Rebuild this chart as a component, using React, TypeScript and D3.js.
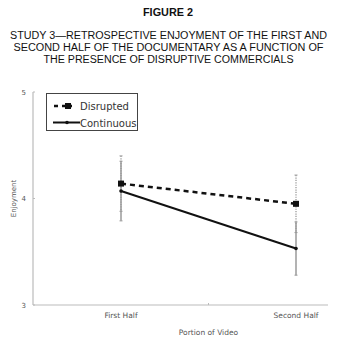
import React from "react";
import * as d3 from "d3";

const categories = ["First Half", "Second Half"];
const disrupted = [4.14, 3.95];
const disruptedErr = [0.26, 0.27];
const continuous = [4.07, 3.53];
const continuousErr = [0.28, 0.25];
const yTicks = [3, 4, 5];
const titleLines = [
  "STUDY 3—RETROSPECTIVE ENJOYMENT OF THE FIRST AND",
  "SECOND HALF OF THE DOCUMENTARY AS A FUNCTION OF",
  "THE PRESENCE OF DISRUPTIVE COMMERCIALS",
];
const titleWidths = [317, 310, 250];

const W = 341;
const H = 344;

export default function App() {
  const axisLeft = 33;
  const axisRight = 328;
  const y = d3.scaleLinear().domain([3, 5]).range([305, 92]);
  const x = d3.scalePoint<string>().domain(categories).range([121, 296]);
  const midX = ((x(categories[0]) as number) + (x(categories[1]) as number)) / 2;
  const line = d3
    .line<number>()
    .x((_, i) => x(categories[i]) as number)
    .y((d) => y(d));
  const font = "'Liberation Sans', Arial, sans-serif";
  const gFont = "'DejaVu Sans', sans-serif";
  const errColor = "#9a9a9a";
  return (
    <svg
      width={W}
      height={H}
      style={{ position: "absolute", left: 0, top: 0, background: "#fff" }}
    >
      <text x={168} y={16} textAnchor="middle" fontFamily={font} fontWeight="bold" fontSize={10.5} fill="#111"
        textLength={50} lengthAdjust="spacingAndGlyphs">
        FIGURE 2
      </text>
      {titleLines.map((t, i) => (
        <text key={i} x={168.5} y={39 + i * 12} textAnchor="middle" fontFamily={font} fontSize={10} fill="#111"
          textLength={titleWidths[i]} lengthAdjust="spacingAndGlyphs">
          {t}
        </text>
      ))}
      {/* axes */}
      <line x1={axisLeft} x2={axisLeft} y1={y(5)} y2={y(3)} stroke="#bbb" strokeWidth={1.2} />
      <line x1={axisLeft} x2={axisRight} y1={y(3)} y2={y(3)} stroke="#bbb" strokeWidth={1.2} />
      <line x1={midX} x2={midX} y1={y(3)} y2={y(3) - 2} stroke="#bbb" strokeWidth={1} />
      {yTicks.map((t) => (
        <g key={t}>
          <line x1={axisLeft} x2={axisLeft + 2} y1={y(t)} y2={y(t)} stroke="#bbb" strokeWidth={1} />
          <text x={26} y={y(t) + 2.5} textAnchor="end" fontFamily={gFont} fontSize={7} fill="#555">
            {t}
          </text>
        </g>
      ))}
      <text
        transform={`translate(16,${y(4)}) rotate(-90)`}
        textAnchor="middle"
        fontFamily={gFont}
        fontSize={7}
        fill="#555"
      >
        Enjoyment
      </text>
      {categories.map((c) => (
        <text key={c} x={x(c)} y={318} textAnchor="middle" fontFamily={gFont} fontSize={7.5} fill="#555">
          {c}
        </text>
      ))}
      <text x={midX} y={335} textAnchor="middle" fontFamily={gFont} fontSize={7.5} fill="#555">
        Portion of Video
      </text>
      {/* error bars disrupted (dotted) */}
      {categories.map((c, i) => (
        <g key={"de" + c}>
          <line
            x1={x(c)}
            x2={x(c)}
            y1={y(disrupted[i] + disruptedErr[i])}
            y2={y(disrupted[i] - disruptedErr[i])}
            stroke={errColor}
            strokeWidth={1.3}
            strokeDasharray="1.2,1.2"
          />
          {[1, -1].map((s) => (
            <line
              key={s}
              x1={(x(c) as number) - 1.5}
              x2={(x(c) as number) + 1.5}
              y1={y(disrupted[i] + s * disruptedErr[i])}
              y2={y(disrupted[i] + s * disruptedErr[i])}
              stroke={errColor}
              strokeWidth={1}
            />
          ))}
        </g>
      ))}
      {/* error bars continuous (solid) */}
      {categories.map((c, i) => (
        <g key={"ce" + c}>
          <line
            x1={x(c)}
            x2={x(c)}
            y1={y(continuous[i] + continuousErr[i])}
            y2={y(continuous[i] - continuousErr[i])}
            stroke={errColor}
            strokeWidth={1.5}
          />
          {[1, -1].map((s) => (
            <line
              key={s}
              x1={(x(c) as number) - 1.5}
              x2={(x(c) as number) + 1.5}
              y1={y(continuous[i] + s * continuousErr[i])}
              y2={y(continuous[i] + s * continuousErr[i])}
              stroke={errColor}
              strokeWidth={1}
            />
          ))}
        </g>
      ))}
      {/* lines */}
      <path d={line(disrupted) as string} fill="none" stroke="#111" strokeWidth={2.5} strokeDasharray="5,4" />
      <path d={line(continuous) as string} fill="none" stroke="#111" strokeWidth={2} />
      {disrupted.map((v, i) => (
        <rect
          key={"dm" + i}
          x={(x(categories[i]) as number) - 3}
          y={y(v) - 3}
          width={6}
          height={6}
          fill="#111"
        />
      ))}
      {continuous.map((v, i) => (
        <circle key={"cm" + i} cx={x(categories[i])} cy={y(v)} r={1.8} fill="#111" />
      ))}
      {/* legend */}
      <rect x={46.5} y={93.5} width={91} height={37} fill="#fff" stroke="#444" strokeWidth={1} />
      <line x1={54} x2={72} y1={106} y2={106} stroke="#111" strokeWidth={2.5} strokeDasharray="4,4" />
      <rect x={65} y={103} width={6} height={6} fill="#111" />
      <text x={80} y={110} fontFamily={gFont} fontSize={10} fill="#333">
        Disrupted
      </text>
      <line x1={53} x2={80} y1={122.5} y2={122.5} stroke="#111" strokeWidth={2} />
      <circle cx={67} cy={122.5} r={1.8} fill="#111" />
      <text x={80} y={126.5} fontFamily={gFont} fontSize={10} fill="#333">
        Continuous
      </text>
    </svg>
  );
}
